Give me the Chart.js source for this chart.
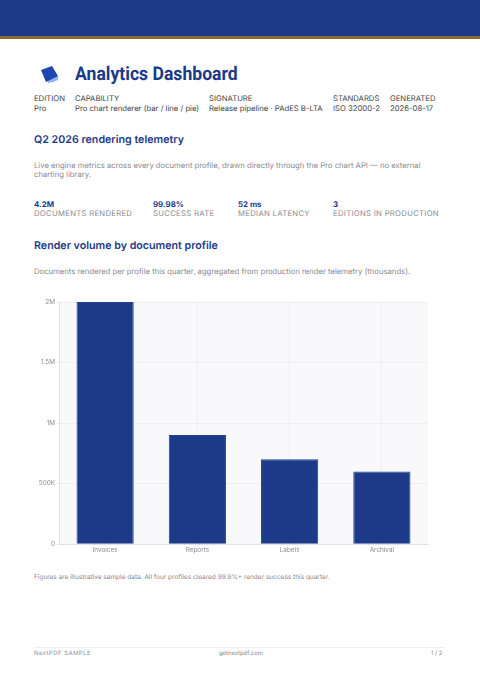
<!DOCTYPE html>
<html>
<head>
<meta charset="utf-8">
<script src="https://cdn.jsdelivr.net/npm/chart.js@4"></script>
<style>
    html, body { margin: 0; padding: 0; background: #fff; }
    #page { position: relative; width: 480px; height: 679px; overflow: hidden; font-family: Inter, sans-serif; text-rendering: geometricPrecision; }
    #page div { position: absolute; white-space: nowrap; }
    .band { left: 0; top: 0; width: 480px; height: 36px; background: #1c3a87; }
    .rule { left: 0; top: 36px; width: 480px; height: 3px; background: #8a6d33; }
    .title { left: 75px; top: 61px; font: 700 19px/26px Roboto, sans-serif; color: #1c3a87; transform: scaleX(.926); transform-origin: left center; }
    .meta { font-size: 7.7px; line-height: 10px; color: #444; }
    .h2 { font-size: 10.7px; font-weight: 600; line-height: 14px; color: #1c3a87; }
    .body { font-size: 7.7px; line-height: 10px; color: #8a8a91; }
    .kv { font-size: 7.9px; font-weight: 700; line-height: 10px; color: #1c3a87; }
    .kl { font-size: 7.7px; line-height: 10px; letter-spacing: .3px; color: #8a8a91; }
    .foot { font-size: 5.9px; line-height: 8px; color: #8a8a91; }
    .footrule { left: 34px; top: 647px; width: 410px; height: 1px; background: #eeeef0; }
    #wrap { left: 24px; top: 292px; width: 416px; height: 268px; }
</style>
</head>
<body>
<div id="page">
    <div class="band"></div>
    <div class="rule"></div>
    <svg style="position:absolute;left:38px;top:64px" width="22" height="20" viewBox="0 0 22 20">
        <path d="M9 14 L20 12 L20 16 L15 18 L10 19 Z" fill="#8fb4f0"/>
        <path d="M3 6 L14 2 L20 12 L8 18 Z" fill="#1f47b0"/>
    </svg>
    <div class="title">Analytics Dashboard</div>

    <div class="meta" style="left:34px;top:94px">EDITION</div>
    <div class="meta" style="left:34px;top:104px">Pro</div>
    <div class="meta" style="left:75px;top:94px">CAPABILITY</div>
    <div class="meta" style="left:75px;top:104px">Pro chart renderer (bar / line / pie)</div>
    <div class="meta" style="left:209px;top:94px">SIGNATURE</div>
    <div class="meta" style="left:209px;top:104px">Release pipeline · PAdES B-LTA</div>
    <div class="meta" style="left:333px;top:94px">STANDARDS</div>
    <div class="meta" style="left:333px;top:104px">ISO 32000-2</div>
    <div class="meta" style="left:390px;top:94px">GENERATED</div>
    <div class="meta" style="left:390px;top:104px">2026-08-17</div>

    <div class="h2" style="left:34px;top:132.5px">Q2 2026 rendering telemetry</div>
    <div class="body" style="left:34px;top:161px">Live engine metrics across every document profile, drawn directly through the Pro chart API — no external</div>
    <div class="body" style="left:34px;top:170px">charting library.</div>

    <div class="kv" style="left:34px;top:199px">4.2M</div>
    <div class="kl" style="left:34px;top:208.5px">DOCUMENTS RENDERED</div>
    <div class="kv" style="left:153px;top:199px">99.98%</div>
    <div class="kl" style="left:153px;top:208.5px">SUCCESS RATE</div>
    <div class="kv" style="left:238px;top:199px">52 ms</div>
    <div class="kl" style="left:238px;top:208.5px">MEDIAN LATENCY</div>
    <div class="kv" style="left:333px;top:199px">3</div>
    <div class="kl" style="left:333px;top:208.5px">EDITIONS IN PRODUCTION</div>

    <div class="h2" style="left:34px;top:238.5px">Render volume by document profile</div>
    <div class="body" style="left:34px;top:267px">Documents rendered per profile this quarter, aggregated from production render telemetry (thousands).</div>

    <div id="wrap"><canvas id="renderChart" width="416" height="268"></canvas></div>

    <div class="body" style="left:34px;top:572px;font-size:6.5px">Figures are illustrative sample data. All four profiles cleared 99.9%+ render success this quarter.</div>

    <div class="footrule"></div>
    <div class="foot" style="left:34px;top:650px;letter-spacing:.5px">NextPDF SAMPLE</div>
    <div class="foot" style="left:219px;top:650px">getnextpdf.com</div>
    <div class="foot" style="left:431px;top:650px">1 / 2</div>
</div>

<script>
const categories = ['Invoices', 'Reports', 'Labels', 'Archival'];
const documentsRendered = [2000000, 900000, 700000, 600000];
const yTicks = { 0: '0', 500000: '500K', 1000000: '1M', 1500000: '1.5M', 2000000: '2M' };

// light panel behind the plot
const plotBackground = {
    id: 'plotBackground',
    beforeDraw(chart) {
        const { ctx, chartArea: a } = chart;
        ctx.save();
        ctx.fillStyle = '#f9f9fb';
        ctx.fillRect(a.left, a.top, a.right - a.left, a.bottom - a.top);
        ctx.restore();
    }
};

new Chart(document.getElementById('renderChart'), {
    type: 'bar',
    data: {
        labels: categories,
        datasets: [{
            data: documentsRendered,
            backgroundColor: '#1c3a87',
            borderColor: '#22428f',
            borderWidth: 1,
            barPercentage: 0.62,
            categoryPercentage: 1
        }]
    },
    options: {
        responsive: false,
        animation: false,
        layout: { padding: { top: 10, right: 12, bottom: 0, left: 0 } },
        plugins: { legend: { display: false }, tooltip: { enabled: false } },
        scales: {
            x: {
                afterFit(scale) { scale.height = 16; },
                grid: { offset: false, color: '#eaeaef', lineWidth: 0.7, tickLength: 2 },
                border: { color: '#dfdfe6' },
                ticks: { color: '#8a8a91', font: { family: 'Inter', size: 6.4 }, padding: 0, maxRotation: 0 }
            },
            y: {
                min: 0,
                max: 2000000,
                afterFit(scale) { scale.width = 35; },
                grid: { color: '#eaeaef', lineWidth: 0.7, tickLength: 3 },
                border: { color: '#dfdfe6' },
                ticks: {
                    stepSize: 500000,
                    color: '#8a8a91',
                    font: { family: 'Inter', size: 6.4 },
                    padding: 1,
                    callback: value => yTicks[value]
                }
            }
        }
    },
    plugins: [plotBackground]
});
</script>
</body>
</html>
